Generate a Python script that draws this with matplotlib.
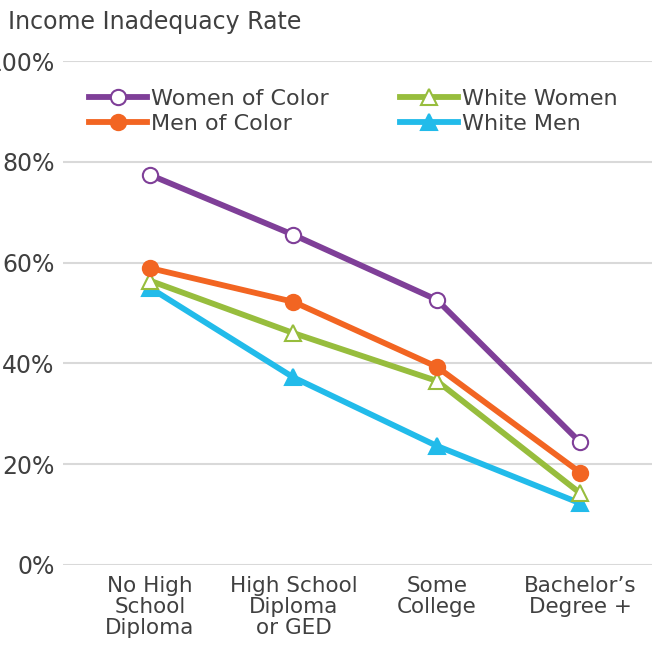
import matplotlib
matplotlib.use("Agg")
import matplotlib.pyplot as plt
import numpy as np

plt.rcParams['font.family'] = ['Liberation Sans Narrow', 'DejaVu Sans']

categories = ["No High\nSchool\nDiploma", "High School\nDiploma\nor GED", "Some\nCollege", "Bachelor\u2019s\nDegree +"]
women_of_color = [77.4, 65.5, 52.6, 24.3]
men_of_color = [58.9, 52.2, 39.3, 18.3]
white_women = [56.4, 46.0, 36.5, 14.2]
white_men = [55.0, 37.2, 23.6, 12.2]
yticks = [0, 20, 40, 60, 80, 100]

text_color = '#404040'

fig = plt.figure(figsize=(6.56, 6.56), dpi=100)
ax = fig.add_axes([0.096, 0.139, 0.898, 0.768])

x = np.arange(len(categories))

series = [
    ("White Men", white_men, '#22BBEA', '^', '#22BBEA'),
    ("White Women", white_women, '#97BD3D', '^', 'white'),
    ("Men of Color", men_of_color, '#F26522', 'o', '#F26522'),
    ("Women of Color", women_of_color, '#7F3F98', 'o', 'white'),
]
handles = {}
for name, vals, col, mk, fc in series:
    h, = ax.plot(x, vals, color=col, lw=4.2, marker=mk, markersize=11,
                 markerfacecolor=fc, markeredgecolor=col, markeredgewidth=1.5,
                 label=name, clip_on=False)
    handles[name] = h

ax.set_xlim(-0.606, 3.5)
ax.set_ylim(0, 100)
ax.set_yticks(yticks)
ax.set_yticklabels([f"{v}%" for v in yticks], fontsize=17, color=text_color)
ax.set_xticks(x)
ax.set_xticklabels(categories, fontsize=15.5, color=text_color, linespacing=1.05)
ax.tick_params(axis='both', length=0)
ax.tick_params(axis='y', pad=6)
ax.tick_params(axis='x', pad=8)
ax.grid(axis='y', color='#D9D9D9', lw=1.5)
ax.set_axisbelow(True)
for s in ax.spines.values():
    s.set_visible(False)

order = ["Women of Color", "Men of Color", "White Women", "White Men"]
leg = ax.legend([handles[n] for n in order], order, ncol=2, loc='upper left',
                bbox_to_anchor=(0.01, 0.985), frameon=False, fontsize=16,
                handlelength=2.6, handletextpad=0.2, columnspacing=3.2,
                labelspacing=0.25, labelcolor=text_color)

fig.text(0.012, 0.966, "Income Inadequacy Rate", fontsize=17, color=text_color,
         va='center', ha='left')

fig.savefig("out.png", dpi=100)
